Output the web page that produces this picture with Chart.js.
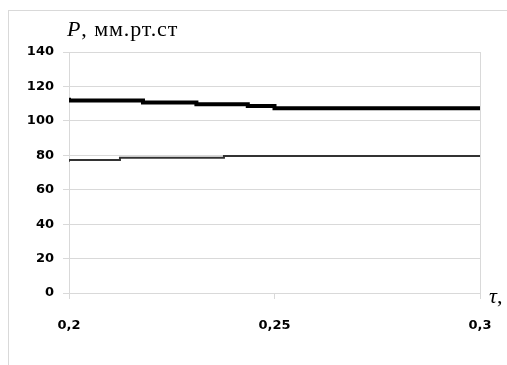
<!DOCTYPE html>
<html>
<head>
<meta charset="utf-8">
<script src="https://cdn.jsdelivr.net/npm/chart.js@4/dist/chart.umd.min.js"></script>
<style>
  html, body { margin: 0; padding: 0; background: #fff; }
  #wrap { position: relative; width: 507px; height: 365px; overflow: hidden; }
  #frame { position: absolute; left: 8px; top: 10px; width: 520px; height: 380px; border: 1px solid #d9d9d9; box-sizing: border-box; }
  canvas { position: absolute; left: 0; top: 0; }
  .lbl { position: absolute; font-family: 'Liberation Serif', 'Times New Roman', serif; font-size: 22px; line-height: 26px; color: #000; white-space: nowrap; }
</style>
</head>
<body>
<div id="wrap">
  <div id="frame"></div>
  <canvas id="chart" width="507" height="365"></canvas>
  <div class="lbl" style="left:67px; top:16px; letter-spacing:0.9px;"><i>P</i>, мм.рт.ст</div>
  <div class="lbl" style="left:489px; top:283px;"><i>τ</i>,</div>
</div>
<script>
// upper curve (thick)
const tauUpper = [0.2, 0.218, 0.231, 0.2435, 0.25, 0.287, 0.3];
const pUpper   = [113.4, 111.8, 110.7, 109.6, 108.6, 107.3, 107.3];
// lower curve (thin)
const tauLower = [0.2, 0.2124, 0.2377, 0.275, 0.3];
const pLower   = [76.3, 77.3, 78.6, 79.6, 79.6];

const xTicks = [0.2, 0.25, 0.3];
const yTicks = [0, 20, 40, 60, 80, 100, 120, 140];

const GRID = '#d9d9d9';
const tickFont = { family: 'DejaVu Sans', size: 13, weight: 'bold' };

const toPts = (xs, ys) => xs.map((x, i) => ({ x, y: ys[i] }));

new Chart(document.getElementById('chart'), {
  type: 'line',
  data: {
    datasets: [
      { data: toPts(tauUpper, pUpper), borderColor: '#000', borderWidth: 4, stepped: 'after', pointRadius: 0 },
      { data: toPts(tauLower, pLower), borderColor: '#333', borderWidth: 2, stepped: 'after', pointRadius: 0 },
    ],
  },
  options: {
    responsive: false,
    animation: false,
    layout: { padding: { left: 0, right: 27, top: 52, bottom: 0 } },
    plugins: { legend: { display: false }, tooltip: { enabled: false } },
    scales: {
      x: {
        type: 'linear',
        min: 0.2,
        max: 0.3,
        afterBuildTicks: s => { s.ticks = xTicks.map(v => ({ value: v })); },
        afterFit: s => { s.height = 72; s.paddingLeft = 0; s.paddingRight = 0; },
        ticks: {
          color: '#000',
          font: tickFont,
          padding: 19,
          maxRotation: 0,
          callback: v => String(v).replace('.', ','),
        },
        grid: {
          color: ctx => (ctx.tick && ctx.tick.value === 0.25) ? 'rgba(0,0,0,0)' : GRID,
          tickColor: GRID,
          tickLength: 6,
          lineWidth: 1,
        },
        border: { display: true, color: GRID },
      },
      y: {
        min: 0,
        max: 140,
        afterBuildTicks: s => { s.ticks = yTicks.map(v => ({ value: v })); },
        afterFit: s => { s.width = 69; s.paddingTop = 0; s.paddingBottom = 0; },
        ticks: { color: '#000', font: tickFont, padding: 9 },
        grid: { color: GRID, tickColor: GRID, tickLength: 6, lineWidth: 1 },
        border: { display: true, color: GRID },
      },
    },
  },
});
</script>
</body>
</html>
